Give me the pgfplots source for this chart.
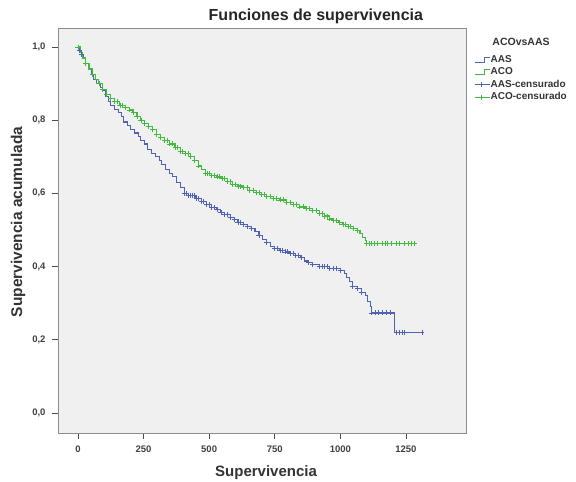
\documentclass[border=0pt]{standalone}
\usepackage{fontspec}
\setmainfont{Liberation Sans}
\usepackage{pgfplots}
\pgfplotsset{compat=1.18}
\definecolor{aas}{RGB}{80,98,182}
\definecolor{aco}{RGB}{66,186,66}
\definecolor{bg}{RGB}{240,240,240}
\definecolor{frm}{RGB}{140,140,140}

\begin{document}
\begin{tikzpicture}
\useasboundingbox (-58pt,-49pt) rectangle (518pt,433pt);
\begin{axis}[
  scale only axis, width=408pt, height=405pt,
  xmin=-76, xmax=1479, ymin=-0.055, ymax=1.052,
  clip=false,
  axis background/.style={fill=bg},
  axis line style={frm, line width=0.9pt},
  xtick={0,250,500,750,1000,1250},
  ytick={0,0.2,0.4,0.6,0.8,1.0},
  tick align=outside, major tick length=6pt,
  tick style={black!70, line width=0.6pt},
  xtick pos=bottom, ytick pos=left,
  ticklabel style={font=\bfseries\fontsize{9.5}{10}\selectfont, text=black!75},
  /pgf/number format/assume math mode=true,
  xticklabel style={yshift=-3pt, /pgf/number format/.cd, fixed, precision=0, 1000 sep={}},
  yticklabel style={xshift=-3pt, /pgf/number format/.cd, fixed, fixed zerofill, precision=1, use comma},
  title={Funciones de supervivencia},
  title style={font=\bfseries\fontsize{16}{18}\selectfont, at={(0.632,1)}, anchor=center,
    yshift=6pt, text=black!85},
  xlabel={Supervivencia},
  ylabel={Supervivencia acumulada},
  xlabel style={font=\bfseries\fontsize{15}{17}\selectfont, text=black!80,
    at={(0.51,0)}, anchor=base, yshift=-43pt},
  ylabel style={font=\bfseries\fontsize{15.5}{17}\selectfont, text=black!80,
    at={(0,0.521)}, anchor=center, yshift=40pt},
  legend style={at={(1.02,0.935)}, anchor=north west, draw=none, fill=none,
    font=\bfseries\fontsize{10}{11}\selectfont, text=black!80,
    row sep=2.5pt, inner sep=0pt,
    nodes={inner sep=0.5pt, text height=7pt, text depth=2pt}},
  legend cell align=left,
]

\addplot[const plot, color=aas, line width=1.1pt,
  legend image code/.code={\draw[color=aas, line width=0.8pt] (0pt,-2.5pt) -- (10pt,-2.5pt) -- (10pt,2.5pt) -- (15pt,2.5pt);}]
coordinates {
(0,1.0)(5,0.99)(12,0.98)(20,0.97)(30,0.955)(40,0.94)(50,0.925)(60,0.912)(72,0.90)
(85,0.89)(95,0.88)(105,0.865)(115,0.85)(125,0.84)(140,0.83)(155,0.822)(165,0.81)
(175,0.795)(190,0.785)(200,0.775)(215,0.765)(230,0.755)(240,0.745)(255,0.735)
(265,0.72)(280,0.71)(295,0.70)(310,0.69)(320,0.68)(335,0.665)(350,0.655)(362,0.645)
(375,0.63)(390,0.615)(405,0.60)(420,0.595)(450,0.585)(470,0.578)(490,0.57)
(510,0.562)(530,0.555)(545,0.548)(560,0.542)(580,0.535)(595,0.528)(610,0.52)
(630,0.515)(645,0.51)(660,0.505)(675,0.495)(690,0.485)(705,0.475)(720,0.465)
(735,0.455)(750,0.45)(770,0.445)(790,0.44)(810,0.435)(830,0.43)(850,0.425)
(865,0.415)(880,0.41)(895,0.405)(920,0.40)(960,0.395)(1000,0.39)(1015,0.38)
(1025,0.37)(1035,0.36)(1045,0.345)(1065,0.34)(1080,0.33)(1095,0.32)(1105,0.305)
(1115,0.29)(1120,0.273)(1208,0.22)(1311,0.22)
};
\addlegendentry{AAS}

\addplot[const plot, color=aco, line width=1.1pt,
  legend image code/.code={\draw[color=aco, line width=0.8pt] (0pt,-2.5pt) -- (10pt,-2.5pt) -- (10pt,2.5pt) -- (15pt,2.5pt);}]
coordinates {
(0,1.0)(8,0.985)(18,0.97)(30,0.955)(42,0.94)(55,0.925)(68,0.91)(80,0.90)(95,0.885)
(110,0.87)(125,0.86)(140,0.85)(160,0.84)(180,0.835)(195,0.828)(210,0.82)(225,0.81)
(240,0.80)(255,0.79)(270,0.782)(285,0.775)(300,0.762)(315,0.752)(330,0.745)
(350,0.735)(370,0.725)(390,0.715)(410,0.708)(430,0.70)(445,0.69)(460,0.675)
(470,0.665)(485,0.655)(510,0.65)(530,0.645)(550,0.64)(570,0.632)(590,0.625)
(610,0.62)(630,0.615)(655,0.608)(680,0.602)(700,0.598)(720,0.592)(745,0.587)
(770,0.582)(795,0.576)(820,0.57)(845,0.563)(870,0.558)(895,0.553)(920,0.545)
(940,0.538)(960,0.53)(975,0.525)(995,0.52)(1010,0.515)(1030,0.51)(1050,0.505)
(1065,0.498)(1075,0.49)(1085,0.48)(1095,0.47)(1100,0.464)(1284,0.464)
};
\addlegendentry{ACO}

\addplot[only marks, mark=+, mark size=2.5pt, color=aas, line width=0.8pt,
  legend image code/.code={\draw[color=aas, line width=0.8pt] (0pt,0pt) -- (15pt,0pt);
    \draw[color=aas, line width=0.8pt, mark=+, mark size=2.5pt] plot coordinates {(7pt,0pt)};}]
coordinates {
(5,0.99)(12,0.98)(405,0.60)(412,0.60)(420,0.595)(428,0.595)(435,0.595)(443,0.595)
(450,0.585)(460,0.585)(470,0.578)(480,0.578)(490,0.57)(500,0.57)
(510,0.562)(520,0.562)(530,0.555)(545,0.548)(560,0.542)(570,0.542)(580,0.535)
(595,0.528)(610,0.52)(620,0.52)(630,0.515)(645,0.51)(660,0.505)(690,0.485)
(720,0.465)(750,0.45)(760,0.45)(770,0.445)(780,0.445)(790,0.44)(800,0.44)
(810,0.435)(820,0.435)(830,0.43)(840,0.43)(850,0.425)(880,0.41)(895,0.405)
(920,0.40)(930,0.40)(940,0.40)(950,0.40)(960,0.395)(972,0.395)(985,0.395)
(1000,0.39)(1045,0.345)(1065,0.34)(1080,0.33)
(1120,0.273)(1133,0.273)(1145,0.273)(1160,0.273)(1175,0.273)(1190,0.273)
(1215,0.22)(1225,0.22)(1235,0.22)(1245,0.22)(1311,0.22)
};
\addlegendentry{AAS-censurado}

\addplot[only marks, mark=+, mark size=2.5pt, color=aco, line width=0.8pt,
  legend image code/.code={\draw[color=aco, line width=0.8pt] (0pt,0pt) -- (15pt,0pt);
    \draw[color=aco, line width=0.8pt, mark=+, mark size=2.5pt] plot coordinates {(7pt,0pt)};}]
coordinates {
(0,1.0)(30,0.955)(55,0.925)(80,0.90)(95,0.885)(110,0.87)(125,0.86)(140,0.85)(150,0.85)
(160,0.84)(170,0.84)(180,0.835)(195,0.828)(210,0.82)(225,0.81)(240,0.80)(255,0.79)
(270,0.782)(285,0.775)(300,0.762)(315,0.752)(330,0.745)(340,0.745)(350,0.735)
(360,0.735)(370,0.725)(380,0.725)(390,0.715)(400,0.715)(410,0.708)(420,0.708)
(430,0.70)(445,0.69)(460,0.675)(485,0.655)(492,0.655)(500,0.655)(510,0.65)(520,0.65)
(530,0.645)(540,0.645)(550,0.64)(560,0.64)(570,0.632)(580,0.632)(590,0.625)
(600,0.625)(610,0.62)(620,0.62)(630,0.615)(645,0.615)(655,0.608)(668,0.608)
(680,0.602)(690,0.602)(700,0.598)(710,0.598)(720,0.592)(735,0.592)(745,0.587)
(758,0.587)(770,0.582)(783,0.582)(795,0.576)(808,0.576)(820,0.57)(833,0.57)
(845,0.563)(858,0.563)(870,0.558)(883,0.558)(895,0.553)(908,0.553)(920,0.545)
(930,0.545)(940,0.538)(950,0.538)(960,0.53)(975,0.525)(985,0.525)(995,0.52)
(1010,0.515)(1020,0.515)(1030,0.51)(1040,0.51)(1050,0.505)(1065,0.498)
(1100,0.464)(1110,0.464)(1120,0.464)(1130,0.464)(1140,0.464)(1160,0.464)
(1170,0.464)(1180,0.464)(1195,0.464)(1215,0.464)(1225,0.464)(1245,0.464)
(1258,0.464)(1270,0.464)(1284,0.464)
};
\addlegendentry{ACO-censurado}

\node[font=\bfseries\fontsize{10.5}{12}\selectfont, text=black!80]
  at (rel axis cs:1.135,0.965) {ACOvsAAS};
\end{axis}
\end{tikzpicture}
\end{document}
